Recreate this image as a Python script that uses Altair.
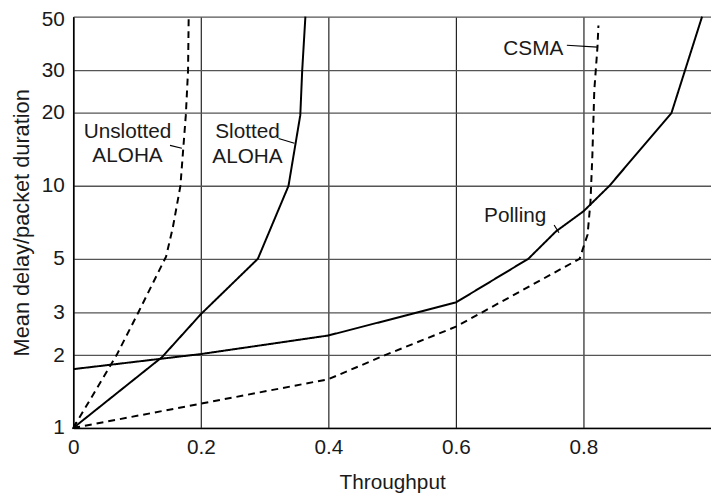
import altair as alt
import pandas as pd

# ---- data ----
unslotted_x = [0, 0.068, 0.102, 0.1455, 0.156, 0.168, 0.1765, 0.18, 0.181]
unslotted_y = [1, 2, 3, 5.1, 6.7, 10, 19.6, 30, 50]

slotted_x = [0, 0.139, 0.2, 0.2895, 0.3375, 0.356, 0.359, 0.364]
slotted_y = [1, 1.96, 2.95, 5, 10, 19.6, 30, 50]

polling_x = [0, 0.2, 0.4, 0.6, 0.7136, 0.757, 0.8, 0.8406, 0.938, 0.986]
polling_y = [1.75, 2.02, 2.41, 3.3, 5, 6.49, 7.85, 10, 20, 50]

csma_x = [0, 0.2, 0.4, 0.489, 0.6, 0.794, 0.8065, 0.811, 0.814, 0.817, 0.822, 0.8235]
csma_y = [1, 1.26, 1.59, 2, 2.62, 5, 6.3, 8.6, 13.4, 24.8, 37.5, 46]

x_ticks = [0, 0.2, 0.4, 0.6, 0.8]
y_ticks = [1, 2, 3, 5, 10, 20, 30, 50]

label_text = ["Unslotted", "ALOHA", "Slotted", "ALOHA", "CSMA", "Polling"]
label_x = [0.0851, 0.0851, 0.2732, 0.2732, 0.7214, 0.693]
label_y = [15.7, 12.6, 15.7, 12.4, 34.7, 7.1]

leader_x = [0.1517, 0.322, 0.774, 0.754]
leader_y = [14.7, 15.7, 38.1, 6.89]
leader_x2 = [0.1703, 0.3467, 0.822, 0.7616]
leader_y2 = [14.3, 15.0, 37.4, 6.4]

arrow_x = [0]
arrow_y = [1]

# ---- tables ----
rows = []
for name, style, xs, ys in [
    ("Unslotted ALOHA", "dashed", unslotted_x, unslotted_y),
    ("Slotted ALOHA", "solid", slotted_x, slotted_y),
    ("Polling", "solid", polling_x, polling_y),
    ("CSMA", "dashed", csma_x, csma_y),
]:
    for i, (a, b) in enumerate(zip(xs, ys)):
        rows.append({"series": name, "style": style, "idx": i, "x": a, "y": b})
df = pd.DataFrame(rows)

labels = pd.DataFrame({"text": label_text, "x": label_x, "y": label_y})
leaders = pd.DataFrame({"x": leader_x, "y": leader_y, "x2": leader_x2, "y2": leader_y2})
arrow = pd.DataFrame({"x": arrow_x, "y": arrow_y})

FONT = "Liberation Sans"
FS = 21
xscale = alt.Scale(domain=[0, 1], nice=False)
yscale = alt.Scale(type="log", domain=[1, 50], nice=False)

lines = alt.Chart(df).mark_line(strokeWidth=2, color="black").encode(
    x=alt.X("x:Q", scale=xscale,
            axis=alt.Axis(values=x_ticks, format="~g", title="Throughput",
                          grid=True, gridColor="#222", gridWidth=1.2)),
    y=alt.Y("y:Q", scale=yscale,
            axis=alt.Axis(values=y_ticks, format="d", title="Mean delay/packet duration",
                          titleFontSize=22,
                          grid=True, gridColor="#555", gridWidth=1.3,
                          labelOffset={"condition": {"test": "datum.value == 50", "value": 3},
                                       "value": 0})),
    detail="series:N",
    order="idx:Q",
    strokeDash=alt.StrokeDash("style:N",
                              scale=alt.Scale(domain=["solid", "dashed"], range=[[1, 0], [7, 5]]),
                              legend=None),
)

text = alt.Chart(labels).mark_text(
    align="center", baseline="alphabetic", fontSize=FS, font=FONT, color="#1a1a1a"
).encode(
    x=alt.X("x:Q", scale=xscale),
    y=alt.Y("y:Q", scale=yscale),
    text="text:N",
)

leader = alt.Chart(leaders).mark_rule(color="black", strokeWidth=1.2).encode(
    x=alt.X("x:Q", scale=xscale),
    y=alt.Y("y:Q", scale=yscale),
    x2="x2:Q",
    y2="y2:Q",
)

arrowhead = alt.Chart(arrow).mark_point(
    shape="M 0.974 -0.225 L 0 0 L 0.454 -0.891", filled=False, size=160,
    stroke="black", strokeWidth=1.6, opacity=1
).encode(
    x=alt.X("x:Q", scale=xscale),
    y=alt.Y("y:Q", scale=yscale),
)

chart = alt.layer(lines, leader, text, arrowhead).properties(
    width=645,
    height=416,
    autosize=alt.AutoSizeParams(type="none"),
    padding={"left": 66, "top": 6, "right": 0, "bottom": 64},
).configure_view(stroke=None).configure_axis(
    labelFont=FONT, titleFont=FONT, labelFontSize=FS, titleFontSize=FS,
    titleFontWeight="normal", labelColor="#1a1a1a", titleColor="#1a1a1a",
    domainColor="black", domainWidth=1.6, ticks=False,
).configure_axisX(
    labelPadding=9, titlePadding=14, labelFlush=False,
).configure_axisY(
    labelPadding=9, titlePadding=8, labelFlush=False,
)

chart.save("out.html", embed_options={"renderer": "svg", "actions": False})
